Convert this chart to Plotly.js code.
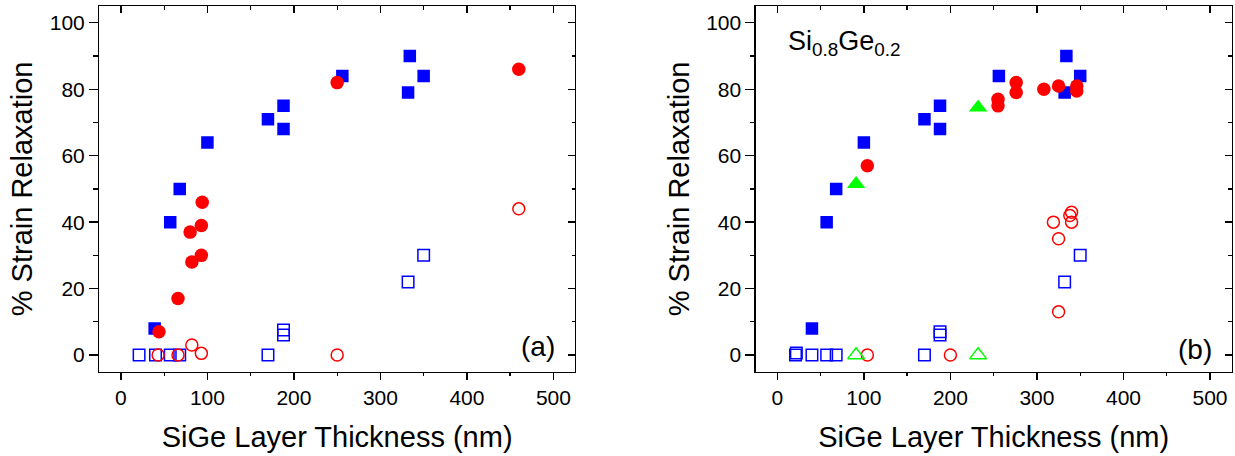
<!DOCTYPE html>
<html>
<head>
<meta charset="utf-8">
<script src="https://cdn.plot.ly/plotly-3.0.1.min.js"></script>
<style>html,body{margin:0;padding:0;background:#fff;}#chart{width:1235px;height:456px;}</style>
</head>
<body>
<div id="chart"></div>
<script>
// ---------- Panel (a) ----------
var a_sqFill_x = [39, 57, 68, 100, 170, 188, 188, 256, 332, 334, 350];
var a_sqFill_y = [8, 40, 50, 64, 71, 75, 68, 84, 79, 90, 84];
var a_sqOpen_x = [21, 40, 57, 68, 170, 188, 188, 332, 350];
var a_sqOpen_y = [0, 0, 0, 0, 0, 7.5, 6, 22, 30];
var a_cFill_x = [44, 66, 82, 80, 93, 93, 94, 250, 460];
var a_cFill_y = [7, 17, 28, 37, 30, 39, 46, 82, 86];
var a_cOpen_x = [43, 66, 82, 93, 250, 460];
var a_cOpen_y = [0, 0, 3, 0.5, 0, 44];

// ---------- Panel (b) ----------
var b_sqFill_x = [40, 57, 68, 100, 170, 188, 188, 256, 332, 334, 350];
var b_sqFill_y = [8, 40, 50, 64, 71, 75, 68, 84, 79, 90, 84];
var b_sqOpen_x = [21, 22, 40, 57, 68, 170, 188, 188, 332, 350];
var b_sqOpen_y = [0, 0.6, 0, 0, 0, 0, 7, 6, 22, 30];
var b_cFill_x = [104, 255, 255, 276, 276, 308, 325, 346, 346];
var b_cFill_y = [57, 77, 75, 82, 79, 80, 81, 81, 79.5];
var b_cOpen_x = [104, 200, 319, 325, 325, 338, 340, 340];
var b_cOpen_y = [0, 0, 40, 35, 13, 42, 43, 40];
var b_tFill_x = [91, 232];
var b_tFill_y = [51.5, 74.5];
var b_tOpen_x = [91, 232];
var b_tOpen_y = [0, 0];

var panelTags = ['(a)', '(b)'];
var xTitle = 'SiGe Layer Thickness (nm)';
var yTitle = '% Strain Relaxation';
var alloyLabel = 'Si<sub>0.8</sub>Ge<sub>0.2</sub>';

var BLUE = '#0000ff', RED = '#ff0000', GREEN = '#00ff00';
var FONT = 'Arial, "Liberation Sans", sans-serif';

function tr(x, y, sym, color, size, open, xa, ya) {
  return {
    x: x, y: y, type: 'scatter', mode: 'markers', xaxis: xa, yaxis: ya,
    showlegend: false, hoverinfo: 'x+y',
    marker: {symbol: sym, color: color, size: size,
             line: {width: open ? 1.5 : 0, color: color}}
  };
}

var data = [
  tr(a_sqOpen_x, a_sqOpen_y, 'square-open', BLUE, 11.5, true, 'x', 'y'),
  tr(a_cOpen_x, a_cOpen_y, 'circle-open', RED, 12, true, 'x', 'y'),
  tr(a_sqFill_x, a_sqFill_y, 'square', BLUE, 12.5, false, 'x', 'y'),
  tr(a_cFill_x, a_cFill_y, 'circle', RED, 13.5, false, 'x', 'y'),
  tr(b_sqOpen_x, b_sqOpen_y, 'square-open', BLUE, 11.5, true, 'x3', 'y3'),
  tr(b_cOpen_x, b_cOpen_y, 'circle-open', RED, 12, true, 'x3', 'y3'),
  tr(b_tOpen_x, b_tOpen_y, 'triangle-up-open', GREEN, 14.5, true, 'x3', 'y3'),
  tr(b_sqFill_x, b_sqFill_y, 'square', BLUE, 12.5, false, 'x3', 'y3'),
  tr(b_cFill_x, b_cFill_y, 'circle', RED, 13.5, false, 'x3', 'y3'),
  tr(b_tFill_x, b_tFill_y, 'triangle-up', GREEN, 16, false, 'x3', 'y3'),
  // empty carriers for the mirrored frame axes
  {x: [], y: [], type: 'scatter', mode: 'markers', xaxis: 'x2', yaxis: 'y2', showlegend: false},
  {x: [], y: [], type: 'scatter', mode: 'markers', xaxis: 'x4', yaxis: 'y4', showlegend: false}
];

var XR = [-25, 525], YR = [-5, 105];
var yDom = [0.185, 0.9864];
var tickFont = {family: FONT, size: 21, color: '#000'};
var titleFont = {family: FONT, size: 29, color: '#000'};

function xBase(dom, yref) {
  return {domain: dom, range: XR, anchor: yref, showgrid: false, zeroline: false,
    showline: true, linecolor: '#000', linewidth: 1.3,
    ticks: 'outside', tick0: 0, dtick: 100, ticklen: 7, tickwidth: 1.3, tickcolor: '#000',
    minor: {ticks: 'outside', dtick: 50, tick0: 0, ticklen: 3.5, tickwidth: 1.3, tickcolor: '#000', showgrid: false},
    tickfont: tickFont,
    title: {text: xTitle, font: titleFont, standoff: 18}};
}
function yBase(xref) {
  return {domain: yDom, range: YR, anchor: xref, showgrid: false, zeroline: false,
    showline: true, linecolor: '#000', linewidth: 1.3,
    ticks: 'outside', tick0: 0, dtick: 20, ticklen: 9, tickwidth: 1.3, tickcolor: '#000',
    minor: {ticks: 'outside', dtick: 10, tick0: 0, ticklen: 4.5, tickwidth: 1.3, tickcolor: '#000', showgrid: false},
    tickfont: tickFont,
    title: {text: yTitle, font: titleFont, standoff: 8}};
}
function xMirror(base, yref) {
  return {overlaying: base, anchor: yref, side: 'top', range: XR, showgrid: false, zeroline: false,
    showline: true, linecolor: '#000', linewidth: 1.3, showticklabels: false,
    ticks: 'inside', tick0: 0, dtick: 100, ticklen: 7, tickwidth: 1.3, tickcolor: '#000',
    minor: {ticks: 'inside', dtick: 50, tick0: 0, ticklen: 3.5, tickwidth: 1.3, tickcolor: '#000', showgrid: false}};
}
function yMirror(base, xref) {
  return {overlaying: base, anchor: xref, side: 'right', range: YR, showgrid: false, zeroline: false,
    showline: true, linecolor: '#000', linewidth: 1.3, showticklabels: false,
    ticks: 'inside', tick0: 0, dtick: 20, ticklen: 7, tickwidth: 1.3, tickcolor: '#000',
    minor: {ticks: 'inside', dtick: 10, tick0: 0, ticklen: 3.5, tickwidth: 1.3, tickcolor: '#000', showgrid: false}};
}

var layout = {
  width: 1235, height: 456,
  margin: {l: 0, r: 0, t: 0, b: 0},
  paper_bgcolor: '#fff', plot_bgcolor: '#fff',
  font: {family: FONT, color: '#000'},
  showlegend: false,
  xaxis: xBase([0.0804, 0.4656], 'y'),
  yaxis: yBase('x'),
  xaxis2: xMirror('x', 'y'),
  yaxis2: yMirror('y', 'x'),
  xaxis3: xBase([0.6119, 0.9973], 'y3'),
  yaxis3: yBase('x3'),
  xaxis4: xMirror('x3', 'y3'),
  yaxis4: yMirror('y3', 'x3'),
  annotations: [
    {xref: 'x domain', yref: 'y domain', x: 0.962, y: 0.07, xanchor: 'right', yanchor: 'middle',
     text: panelTags[0], showarrow: false, font: {family: FONT, size: 28, color: '#000'}},
    {xref: 'x3 domain', yref: 'y3 domain', x: 0.962, y: 0.06, xanchor: 'right', yanchor: 'middle',
     text: panelTags[1], showarrow: false, font: {family: FONT, size: 28, color: '#000'}},
    {xref: 'x3 domain', yref: 'y3 domain', x: 0.063, y: 0.9, xanchor: 'left', yanchor: 'middle',
     text: alloyLabel, showarrow: false, font: {family: FONT, size: 27, color: '#000'}}
  ]
};

Plotly.newPlot('chart', data, layout, {staticPlot: true, displayModeBar: false});
</script>
</body>
</html>
